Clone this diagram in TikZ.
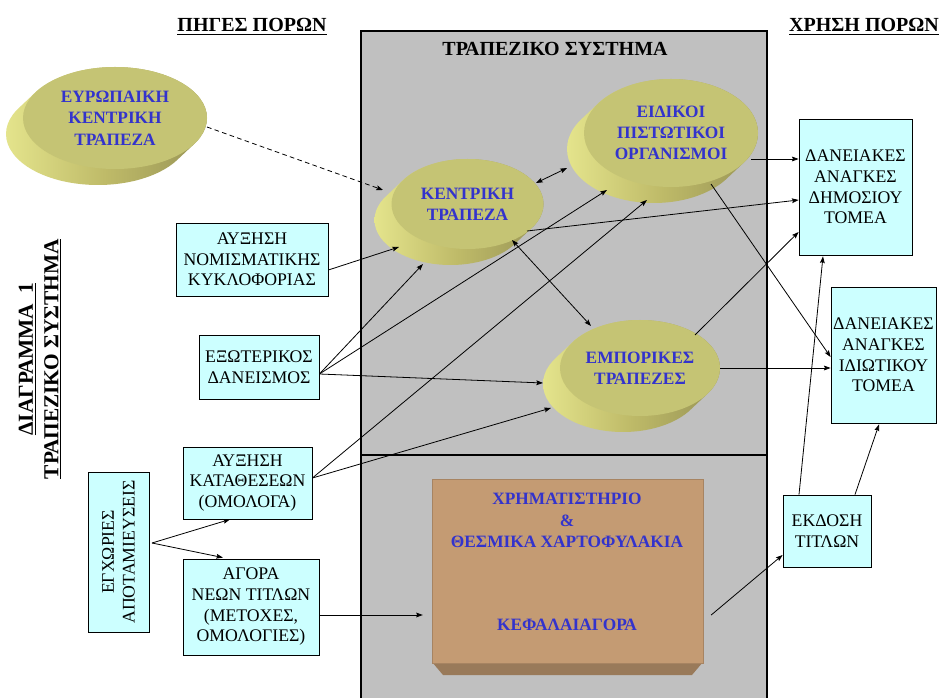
\documentclass[tikz,border=0pt]{standalone}
\usepackage{fontspec}
\setmainfont{Liberation Serif}
\usetikzlibrary{shapes.geometric,arrows.meta,calc}
\definecolor{boxcyan}{RGB}{204,255,255}
\definecolor{sysgray}{RGB}{192,192,192}
\definecolor{disctopc}{RGB}{197,196,116}
\definecolor{discL}{RGB}{228,228,140}
\definecolor{discM}{RGB}{190,186,104}
\definecolor{discD}{RGB}{152,148,86}
\definecolor{discblue}{RGB}{51,51,204}
\definecolor{brownF}{RGB}{196,155,115}
\definecolor{brownB}{RGB}{153,122,90}
\newcommand\mydisc[6]{%
  \shade[left color=discL, right color=discD, middle color=discM]
    \foreach \k in {0,...,20} {({#2-17*\k/20},{#3+16*\k/20}) ellipse [x radius={#4*0.75pt}, y radius={#5*0.75pt}]};
  \node[disctop, minimum width={2*#4*0.75pt}, minimum height={2*#5*0.75pt}] (#1) at (#2,#3) {#6};
}
\begin{document}
\begin{tikzpicture}[x=0.75pt,y=-0.75pt,
  cbox/.style={draw=black, line width=0.6pt, fill=boxcyan, align=center, inner sep=1pt,
    font=\fontsize{13.3}{15.5}\selectfont},
  disctop/.style={ellipse, fill=disctopc, inner sep=0pt, align=center, text=discblue,
    font=\bfseries\fontsize{13}{16}\selectfont},
  arr/.style={-{Stealth[length=5pt,width=3.6pt,inset=0.8pt]}, line width=0.6pt},
  darr/.style={{Stealth[length=5pt,width=3.6pt,inset=0.8pt]}-{Stealth[length=5pt,width=3.6pt,inset=0.8pt]}, line width=0.6pt},
  head/.style={font=\bfseries\fontsize{15}{18}\selectfont, inner sep=0pt}
]
\useasboundingbox (0,0) rectangle (939,698);
\fill[white] (0,0) rectangle (939,698);
% banking system frame
\draw[line width=2.2pt, fill=sysgray] (361,31) rectangle (767,455);
\draw[line width=2.2pt, fill=sysgray] (361,455) rectangle (767,710);
% headings
\node[head, anchor=base] (hsrc) at (252,32) {\underline{ΠΗΓΕΣ ΠΟΡΩΝ}};
\node[head, anchor=base] (huse) at (864,32) {\underline{ΧΡΗΣΗ ΠΟΡΩΝ}};
\node[head, anchor=base] (hsys) at (555,56) {ΤΡΑΠΕΖΙΚΟ ΣΥΣΤΗΜΑ};
\node[font=\bfseries\fontsize{16}{19}\selectfont, rotate=90, align=center, inner sep=0pt] (htitle) at (40,359)
  {\underline{ΔΙΑΓΡΑΜΜΑ\ \ 1}\\\underline{ΤΡΑΠΕΖΙΚΟ ΣΥΣΤΗΜΑ}};
% discs
\mydisc{ecb}{115}{118}{92}{51}{ΕΥΡΩΠΑΙΚΗ\\ΚΕΝΤΡΙΚΗ\\ΤΡΑΠΕΖΑ}
\mydisc{cb}{467.5}{204}{76}{45}{ΚΕΝΤΡΙΚΗ\\ΤΡΑΠΕΖΑ}
\mydisc{eo}{671}{133}{87}{54}{ΕΙΔΙΚΟΙ\\ΠΙΣΤΩΤΙΚΟΙ\\ΟΡΓΑΝΙΣΜΟΙ}
\mydisc{em}{640}{368}{80}{48}{ΕΜΠΟΡΙΚΕΣ\\ΤΡΑΠΕΖΕΣ}
% stock exchange block
\fill[brownB] (432,662) -- (703,662) -- (692,675) -- (443,675) -- cycle;
\node[fill=brownF, draw=brownF!85!black, line width=0.3pt, minimum width=203.25pt, minimum height=138pt, inner sep=0pt] (xrim) at (567.5,571) {};
\node[align=center, text=discblue, font=\bfseries\fontsize{13}{16}\selectfont] (xrimt) at (567,562)
  {ΧΡΗΜΑΤΙΣΤΗΡΙΟ\\\&\\ΘΕΣΜΙΚΑ ΧΑΡΤΟΦΥΛΑΚΙΑ\\[46pt]ΚΕΦΑΛΑΙΑΓΟΡΑ};
% boxes
\node[cbox, minimum width=114pt, minimum height=54.75pt] (nom) at (252,259.5) {ΑΥΞΗΣΗ\\ΝΟΜΙΣΜΑΤΙΚΗΣ\\ΚΥΚΛΟΦΟΡΙΑΣ};
\node[cbox, minimum width=90pt, minimum height=48pt] (ext) at (259,367) {ΕΞΩΤΕΡΙΚΟΣ\\ΔΑΝΕΙΣΜΟΣ};
\node[cbox, minimum width=96.75pt, minimum height=54pt] (kat) at (247.5,483) {ΑΥΞΗΣΗ\\ΚΑΤΑΘΕΣΕΩΝ\\(ΟΜΟΛΟΓΑ)};
\node[cbox, minimum width=102pt, minimum height=72pt] (agora) at (251,607) {ΑΓΟΡΑ\\ΝΕΩΝ ΤΙΤΛΩΝ\\(ΜΕΤΟΧΕΣ,\\ΟΜΟΛΟΓΙΕΣ)};
\node[cbox, rotate=90, minimum width=120pt, minimum height=45.75pt] (egx) at (118.5,552) {ΕΓΧΩΡΙΕΣ\\ΑΠΟΤΑΜΙΕΥΣΕΙΣ};
\node[cbox, minimum width=84.75pt, minimum height=102pt] (dim) at (855.5,187) {ΔΑΝΕΙΑΚΕΣ\\ΑΝΑΓΚΕΣ\\ΔΗΜΟΣΙΟΥ\\ΤΟΜΕΑ};
\node[cbox, minimum width=78.75pt, minimum height=102pt] (idi) at (883.5,355) {ΔΑΝΕΙΑΚΕΣ\\ΑΝΑΓΚΕΣ\\ΙΔΙΩΤΙΚΟΥ\\ΤΟΜΕΑ};
\node[cbox, minimum width=66pt, minimum height=54pt] (ekd) at (827,531) {ΕΚΔΟΣΗ\\ΤΙΤΛΩΝ};
% connectors
\draw[arr, dash pattern=on 3.5pt off 2.5pt] ($(ecb.center)+(92,9)$) -- ($(cb.center)+(-84.5,-14)$);
\draw[darr] ($(cb.center)+(68.5,-21)$) -- ($(eo.center)+(-104,35)$);
\draw[arr] ($(eo.center)+(80,26)$) coordinate (p3) -- (p3 -| dim.west);
\draw[arr] ($(cb.center)+(59.5,27)$) -- ($(dim.west)+(0,13)$);
\draw[arr] ($(eo.center)+(40,51)$) -- ($(idi.west)+(0,2)$);
\draw[arr] ($(em.center)+(55,-33)$) -- ($(dim.west)+(0,45)$);
\draw[arr] (em.east) -- (em.east -| idi.west);
\draw[darr] ($(cb.center)+(44.5,36)$) -- ($(em.center)+(-49,-42)$);
\draw[arr] ($(nom.east)+(0,10.5)$) -- ($(cb.center)+(-68.5,43)$);
\draw[arr] ($(ext.east)+(0,7)$) -- ($(cb.center)+(-44.5,60)$);
\draw[arr] ($(ext.east)+(0,7)$) -- ($(eo.center)+(-64,57)$);
\draw[arr] ($(ext.east)+(0,7)$) -- ($(em.center)+(-97,15)$);
\draw[arr] ($(kat.east)+(0,-5)$) -- ($(eo.center)+(-24,67)$);
\draw[arr] ($(kat.east)+(0,-5)$) -- ($(em.center)+(-89,40)$);
\draw[arr] ($(egx.center)+(33.5,-9)$) -- ($(kat.south)+(-17.5,0)$);
\draw[arr] ($(egx.center)+(33.5,-9)$) -- ($(agora.north)+(-28,-1)$);
\draw[arr] ($(agora.east)+(0,8)$) -- ($(xrim.west)+(-9,44)$);
\draw[arr] ($(xrim.east)+(8,44)$) -- ($(ekd.west)+(0,24)$);
\draw[arr] ($(ekd.north)+(-28,0)$) -- ($(dim.south)+(-32.5,1)$);
\draw[arr] ($(ekd.north)+(28,0)$) -- ($(idi.south)+(-4.5,1)$);
\end{tikzpicture}
\end{document}
